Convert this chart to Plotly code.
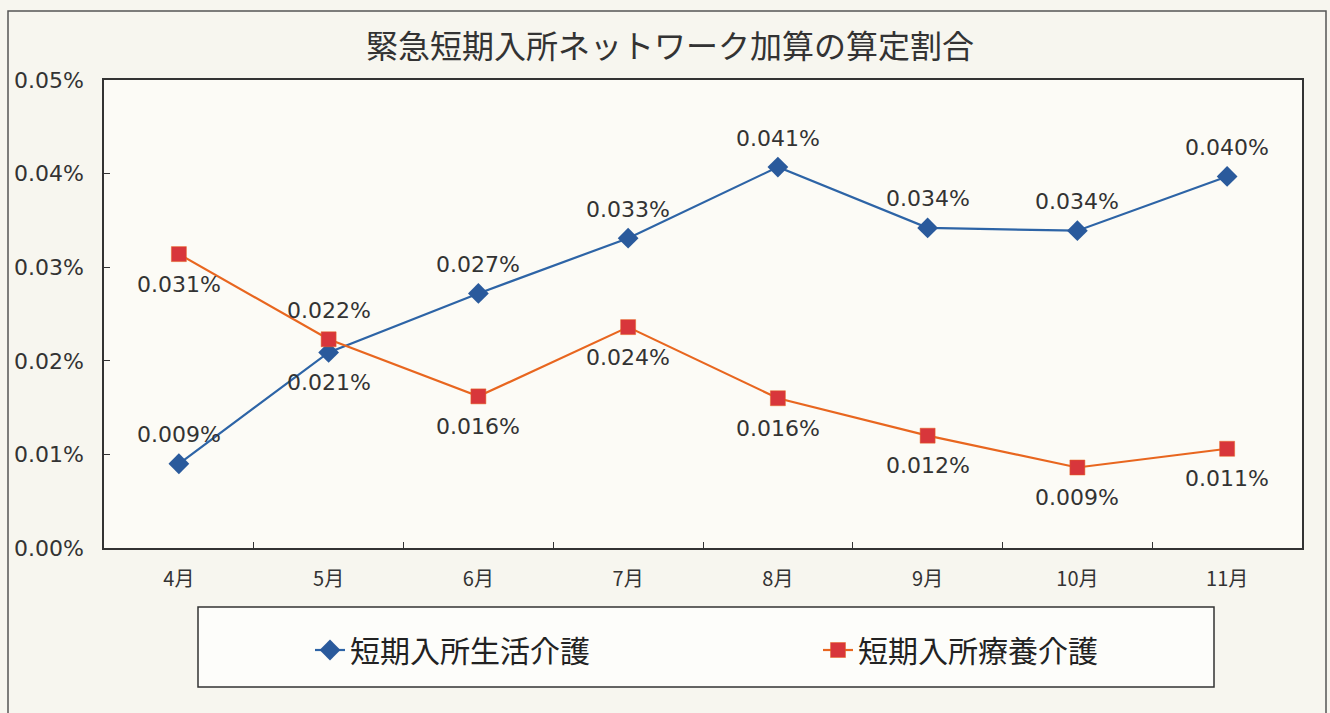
import plotly.graph_objects as go

months = ["4月", "5月", "6月", "7月", "8月", "9月", "10月", "11月"]
seikatsu_y = [0.0090, 0.0209, 0.0272, 0.0331, 0.0407, 0.0342, 0.0339, 0.0397]
ryoyo_y = [0.0314, 0.0223, 0.0162, 0.0236, 0.0160, 0.0120, 0.0086, 0.0106]
y_ticks = [0, 0.01, 0.02, 0.03, 0.04, 0.05]
y_tick_text = ["0.00%", "0.01%", "0.02%", "0.03%", "0.04%", "0.05%"]
title_text = "緊急短期入所ネットワーク加算の算定割合"
name_blue = "短期入所生活介護"
name_red = "短期入所療養介護"
blue_label_pos = ["top", "bottom", "top", "top", "top", "top", "top", "top"]
red_label_pos = ["bottom", "top", "bottom", "bottom", "bottom", "bottom", "bottom", "bottom"]

FONT = "Noto Sans CJK JP"
NUMFONT = "DejaVu Sans"
W, H = 1330, 713
L, R, T, B = 104, 1302, 80, 548
PW, PH = R - L, B - T


def px_x(x):
    return (x - L) / PW


def px_y(y):
    return (B - y) / PH


fig = go.Figure()
fig.add_trace(go.Scatter(
    x=months, y=seikatsu_y, name=name_blue, mode="lines+markers",
    line=dict(color="#2d64a6", width=2.2),
    marker=dict(symbol="diamond", size=16, color="#2a5a9c"),
    legend="legend", showlegend=True,
))
fig.add_trace(go.Scatter(
    x=months, y=ryoyo_y, name=name_red, mode="lines+markers",
    line=dict(color="#e8661f", width=2.2),
    marker=dict(symbol="square", size=15, color="#d8363b",
                line=dict(color="#e8661f", width=0.5)),
    legend="legend2", showlegend=True,
))

annotations = []
for series, poss in ((seikatsu_y, blue_label_pos), (ryoyo_y, red_label_pos)):
    for m, v, p in zip(months, series, poss):
        annotations.append(dict(x=m, y=v, xref="x", yref="y", text=f"{v:.3f}%",
                                showarrow=False, yshift=29 if p == "top" else -30,
                                font=dict(family=NUMFONT, size=22, color="#333333")))

shapes = [
    dict(type="rect", xref="paper", yref="paper",
         x0=px_x(8), x1=px_x(1326), y0=px_y(730), y1=px_y(11),
         line=dict(color="#555555", width=1.5), layer="below"),
    dict(type="rect", xref="paper", yref="paper",
         x0=px_x(198), x1=px_x(1214), y0=px_y(687), y1=px_y(607),
         line=dict(color="#333333", width=1.5), fillcolor="#fdfdfa", layer="below"),
]

legend_common = dict(orientation="h", yanchor="middle", y=px_y(650),
                     xanchor="left", bgcolor="rgba(0,0,0,0)", visible=True,
                     font=dict(family=FONT, size=30, color="#222222"))

fig.update_layout(
    width=W, height=H,
    showlegend=True,
    margin=dict(l=L, r=W - R, t=T, b=H - B),
    paper_bgcolor="#f7f6ef",
    plot_bgcolor="#fcfbf6",
    font=dict(family=FONT, color="#333333"),
    title=dict(text=title_text, x=670 / W, xanchor="center",
               y=1 - 47 / H, yanchor="middle",
               font=dict(family=FONT, size=32, color="#333333")),
    xaxis=dict(type="category", range=[-0.5, 7.5], showline=True, mirror=True,
               linecolor="#333333", linewidth=1.5, ticks="inside", ticklen=6,
               tickcolor="#333333", tickson="boundaries", showgrid=False,
               tickfont=dict(family=FONT, size=20, color="#333333"),
               ticklabelstandoff=12),
    yaxis=dict(range=[0, 0.05], tickvals=y_ticks, ticktext=y_tick_text,
               showline=True, mirror=True, linecolor="#333333", linewidth=1.5,
               ticks="inside", ticklen=6, tickcolor="#333333", showgrid=False,
               zeroline=False,
               tickfont=dict(family=NUMFONT, size=22, color="#333333"),
               ticklabelstandoff=14),
    legend=dict(x=px_x(310), **legend_common),
    legend2=dict(x=px_x(818), **legend_common),
    annotations=annotations,
    shapes=shapes,
)

fig.write_html("out.html", config={"displayModeBar": False},
               post_script="document.body.style.margin='0';document.body.style.overflow='hidden';")
